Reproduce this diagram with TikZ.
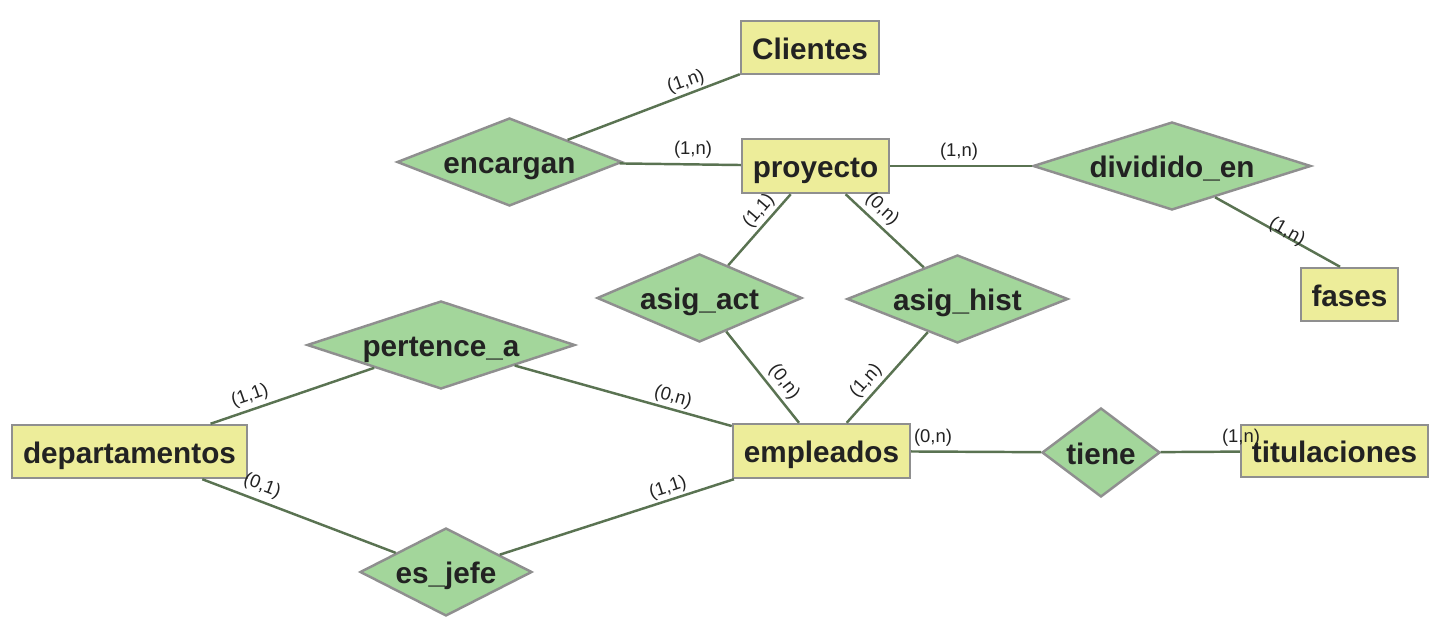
\documentclass[tikz,border=0pt]{standalone}
\usepackage{fontspec}
\setmainfont{Liberation Sans}
\usetikzlibrary{shapes.geometric}
\definecolor{ent-fill}{HTML}{EDED9A}
\definecolor{rel-fill}{HTML}{A3D69B}
\definecolor{borde}{HTML}{8F8F8F}
\definecolor{linea}{HTML}{5A7352}
\definecolor{texto}{HTML}{222222}

\begin{document}
\begin{tikzpicture}[
    entidad/.style={draw=borde, line width=1.4pt, fill=ent-fill, inner sep=0pt,
      text=texto, text height=15pt, text depth=1.5pt,
      font=\fontsize{16.9}{20}\selectfont\bfseries},
    relacion/.style={diamond, draw=borde, line width=1.4pt, fill=rel-fill, inner sep=0pt,
      text=texto, text height=15pt, text depth=1.5pt,
      font=\fontsize{16.9}{20}\selectfont\bfseries},
    card/.style={text=texto, inner sep=0pt, font=\fontsize{10.5}{12}\selectfont},
    conn/.style={draw=linea, line width=1.4pt}]
  \useasboundingbox (0,0) rectangle (28.88,-12.48);

  % entidades
  \node[entidad, minimum width=2.76cm, minimum height=1.06cm] (clientes) at (16.2, -0.95) {Clientes};
  \node[entidad, minimum width=2.94cm, minimum height=1.08cm] (proyecto) at (16.31, -3.32) {proyecto};
  \node[entidad, minimum width=1.94cm, minimum height=1.06cm] (fases) at (26.99, -5.89) {fases};
  \node[entidad, minimum width=4.7cm, minimum height=1.06cm] (departamentos) at (2.59, -9.03) {departamentos};
  \node[entidad, minimum width=3.54cm, minimum height=1.08cm] (empleados) at (16.43, -9.02) {empleados};
  \node[entidad, minimum width=3.74cm, minimum height=1.04cm] (titulaciones) at (26.69, -9.02) {titulaciones};

  % relaciones
  \node[relacion, aspect=2.56, minimum width=4.5cm, minimum height=1.76cm] (encargan) at (10.19, -3.24) {encargan};
  \node[relacion, aspect=3.16, minimum width=5.56cm, minimum height=1.76cm] (dividido) at (23.44, -3.32) {dividido\_en};
  \node[relacion, aspect=2.33, minimum width=4.1cm, minimum height=1.76cm] (asigact) at (13.99, -5.96) {asig\_act};
  \node[relacion, aspect=2.51, minimum width=4.42cm, minimum height=1.76cm] (asighist) at (19.15, -5.98) {asig\_hist};
  \node[relacion, aspect=3.05, minimum width=5.36cm, minimum height=1.76cm] (pertence) at (8.82, -6.9) {pertence\_a};
  \node[relacion, aspect=1.33, minimum width=2.36cm, minimum height=1.78cm] (tiene) at (22.02, -9.05) {tiene};
  \node[relacion, aspect=1.95, minimum width=3.44cm, minimum height=1.76cm] (esjefe) at (8.92, -11.44) {es\_jefe};

  % conexiones
  \draw[conn] (encargan) -- (clientes);
  \draw[conn] (encargan) -- (proyecto);
  \draw[conn] (proyecto) -- (dividido);
  \draw[conn] (dividido.-36) -- ([xshift=-0.19cm]fases.north);
  \draw[conn] (proyecto) -- (asigact);
  \draw[conn] (proyecto) -- (asighist);
  \draw[conn] (asigact) -- (empleados);
  \draw[conn] (asighist) -- (empleados);
  \draw[conn] (pertence) -- (departamentos);
  \draw[conn] (pertence) -- (empleados);
  \draw[conn] (departamentos) -- (esjefe);
  \draw[conn] (esjefe) -- (empleados);
  \draw[conn] (empleados) -- (tiene);
  \draw[conn] (tiene) -- (titulaciones);

  % cardinalidades
  \node[card, rotate=19.6] (c1) at (13.72, -1.64) {(1,n)};
  \node[card] (c2) at (13.86, -3.0) {(1,n)};
  \node[card] (c3) at (19.18, -3.04) {(1,n)};
  \node[card, rotate=-29.4] (c4) at (25.74, -4.64) {(1,n)};
  \node[card, rotate=49.3] (c5) at (15.18, -4.22) {(1,1)};
  \node[card, rotate=-43.2] (c6) at (17.64, -4.18) {(0,n)};
  \node[card, rotate=-52.2] (c7) at (15.68, -7.64) {(0,n)};
  \node[card, rotate=48.6] (c8) at (17.32, -7.62) {(1,n)};
  \node[card, rotate=19.2] (c9) at (5.0, -7.92) {(1,1)};
  \node[card, rotate=-15.6] (c10) at (13.46, -7.94) {(0,n)};
  \node[card, rotate=-20.9] (c11) at (5.24, -9.72) {(0,1)};
  \node[card, rotate=17.8] (c12) at (13.36, -9.76) {(1,1)};
  \node[card] (c13) at (18.66, -8.76) {(0,n)};
  \node[card] (c14) at (24.82, -8.76) {(1,n)};
\end{tikzpicture}
\end{document}
